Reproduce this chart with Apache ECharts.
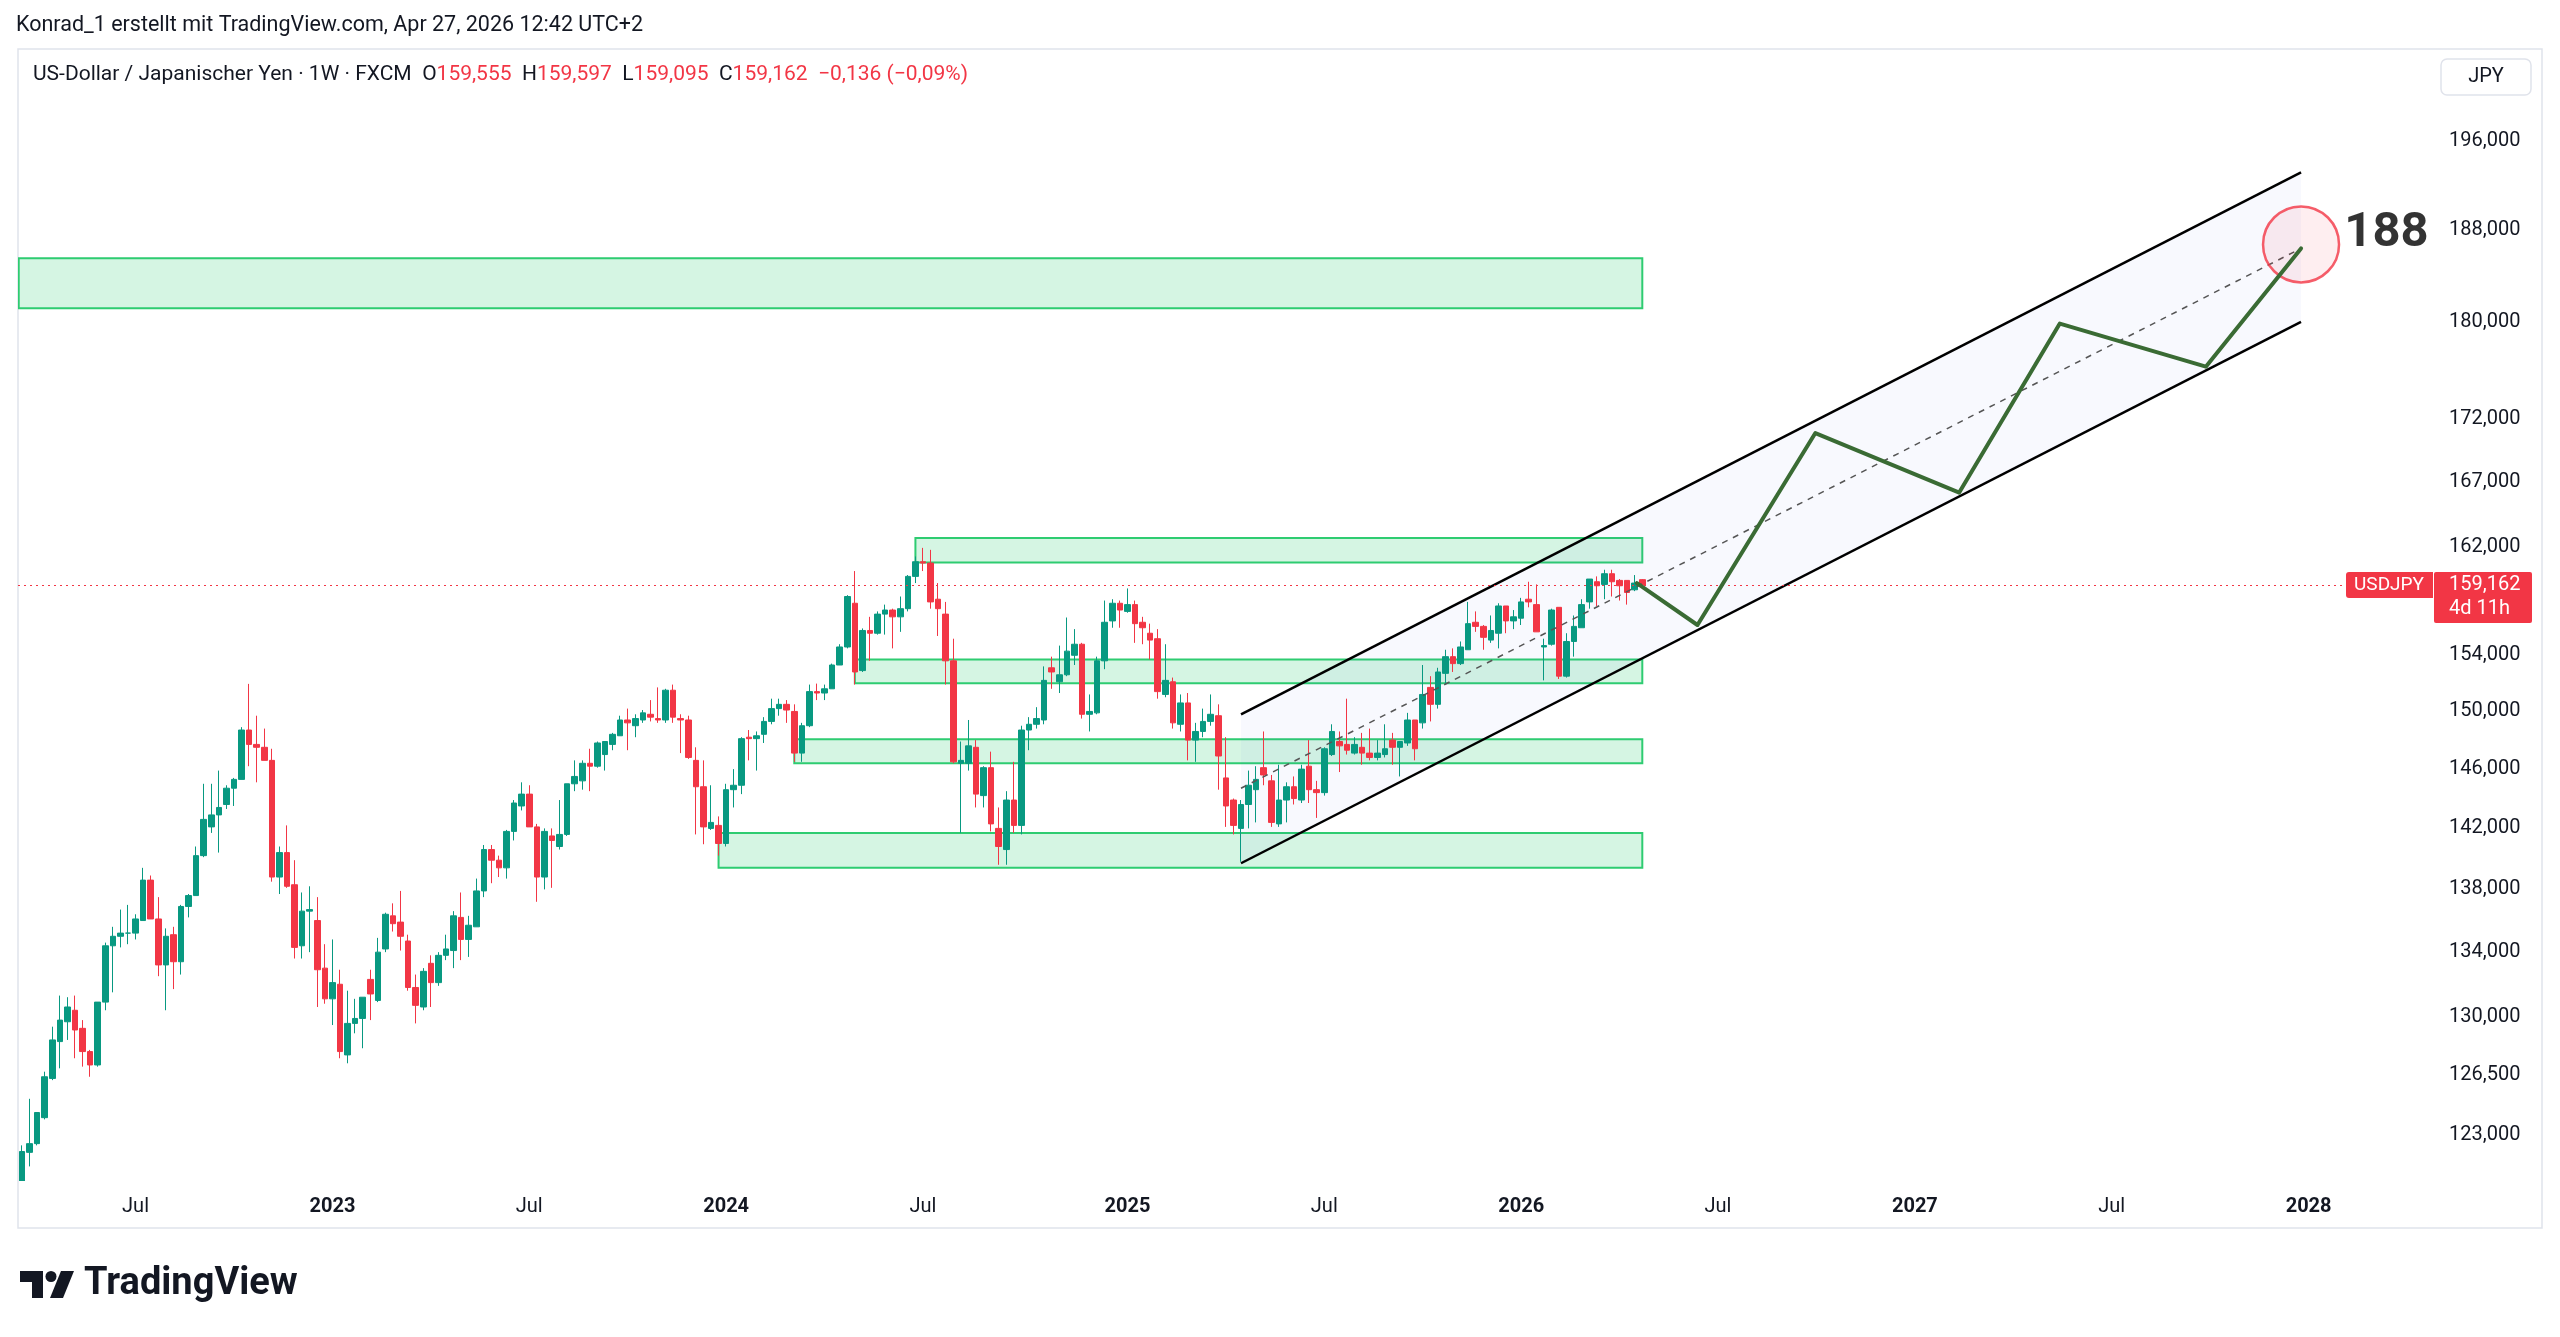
<!DOCTYPE html>
<html lang="de">
<head>
<meta charset="UTF-8">
<title>USDJPY 1W</title>
<script src="https://cdn.jsdelivr.net/npm/echarts@6.0.0/dist/echarts.min.js"></script>
<style>
  html, body { margin: 0; padding: 0; background: #fff; }
  #main { width: 2560px; height: 1337px; }
</style>
</head>
<body>
<div id="main"></div>
<script>
// weekly candles: [week, open, high, low, close]
const candles = [
  ['2022-03-21',119.2,122.4,119.1,122.05],['2022-03-28',122.0,125.1,121.2,122.5],['2022-04-04',122.5,124.3,122.4,124.3],
  ['2022-04-11',124.0,126.7,123.9,126.4],['2022-04-18',126.3,129.4,126.2,128.6],['2022-04-25',128.5,131.3,126.9,129.8],
  ['2022-05-02',129.7,131.2,128.6,130.6],['2022-05-09',130.4,131.3,127.5,129.2],['2022-05-16',129.3,129.8,127.0,127.9],
  ['2022-05-23',127.9,128.0,126.4,127.1],['2022-05-30',127.1,130.9,127.0,130.9],['2022-06-06',130.9,134.6,130.4,134.4],
  ['2022-06-13',134.4,135.6,131.5,135.0],['2022-06-20',135.0,136.7,134.3,135.2],['2022-06-27',135.2,137.0,134.5,135.2],
  ['2022-07-04',135.2,136.4,134.8,136.1],['2022-07-11',136.0,139.4,136.0,138.6],['2022-07-18',138.6,138.9,136.4,136.1],
  ['2022-07-25',136.1,137.5,132.5,133.2],['2022-08-01',133.2,135.5,130.4,135.0],['2022-08-08',135.1,135.6,131.7,133.4],
  ['2022-08-15',133.4,137.0,132.6,136.9],['2022-08-22',136.9,137.7,136.2,137.6],['2022-08-29',137.6,140.8,137.6,140.2],
  ['2022-09-05',140.2,145.0,140.1,142.6],['2022-09-12',142.1,145.0,141.7,142.9],['2022-09-19',142.9,145.9,140.4,143.4],
  ['2022-09-26',143.6,144.9,143.3,144.7],['2022-10-03',144.7,145.4,143.5,145.3],['2022-10-10',145.3,148.9,145.3,148.7],
  ['2022-10-17',148.7,151.95,146.2,147.7],['2022-10-24',147.7,149.7,145.1,147.5],['2022-10-31',147.5,148.8,146.6,146.6],
  ['2022-11-07',146.6,147.4,138.5,138.8],['2022-11-14',138.8,140.8,137.7,140.4],['2022-11-21',140.4,142.2,138.1,138.2],
  ['2022-11-28',138.3,139.9,133.6,134.3],['2022-12-05',134.4,137.8,133.6,136.6],['2022-12-12',136.6,138.2,134.0,136.7],
  ['2022-12-19',136.0,137.5,130.6,132.9],['2022-12-26',133.0,134.5,130.8,131.1],
  ['2023-01-02',131.1,134.8,129.5,132.1],['2023-01-09',132.0,132.9,127.5,127.9],['2023-01-16',127.7,131.6,127.2,129.6],
  ['2023-01-23',129.6,131.1,129.0,129.9],['2023-01-30',129.9,131.2,128.1,131.2],['2023-02-06',132.3,132.9,129.8,131.4],
  ['2023-02-13',131.0,134.9,130.9,134.0],['2023-02-20',134.2,136.5,134.0,136.4],['2023-02-27',136.3,137.1,135.3,135.8],
  ['2023-03-06',135.9,137.9,134.1,135.0],['2023-03-13',134.7,135.1,131.6,131.8],['2023-03-20',131.8,132.6,129.6,130.7],
  ['2023-03-27',130.6,133.0,130.4,132.8],['2023-04-03',133.3,133.8,130.6,132.1],['2023-04-10',132.1,134.0,131.9,133.8],
  ['2023-04-17',133.8,135.1,133.5,134.2],['2023-04-24',134.1,136.6,133.0,136.3],['2023-05-01',136.2,137.8,133.5,134.8],
  ['2023-05-08',134.8,136.3,133.7,135.7],['2023-05-15',135.6,138.7,135.6,137.9],['2023-05-22',137.9,140.9,137.5,140.6],
  ['2023-05-29',140.6,140.9,138.4,139.9],['2023-06-05',139.9,140.2,138.8,139.4],['2023-06-12',139.4,141.9,138.7,141.8],
  ['2023-06-19',141.8,143.9,141.2,143.7],['2023-06-26',143.5,145.1,143.2,144.3],['2023-07-03',144.3,144.9,142.1,142.1],
  ['2023-07-10',142.1,142.3,137.2,138.8],['2023-07-17',138.8,142.0,138.0,141.8],['2023-07-24',141.5,142.0,138.1,141.2],
  ['2023-07-31',140.8,143.9,140.6,141.6],['2023-08-07',141.6,145.0,141.5,145.0],['2023-08-14',145.0,146.6,144.5,145.5],
  ['2023-08-21',145.2,146.6,144.6,146.4],['2023-08-28',146.4,147.4,144.5,146.2],['2023-09-04',146.2,147.9,146.1,147.8],
  ['2023-09-11',147.0,147.9,145.9,147.9],['2023-09-18',147.7,148.5,147.3,148.4],['2023-09-25',148.3,149.7,148.3,149.4],
  ['2023-10-02',149.4,150.2,147.3,149.2],['2023-10-09',149.0,149.8,148.2,149.5],['2023-10-16',149.4,150.1,149.2,149.9],
  ['2023-10-23',149.8,150.8,149.3,149.6],['2023-10-30',149.5,151.7,149.2,149.4],['2023-11-06',149.4,151.6,149.2,151.5],
  ['2023-11-13',151.5,151.9,149.2,149.6],['2023-11-20',149.5,149.8,147.1,149.4],['2023-11-27',149.4,149.7,146.7,146.8],
  ['2023-12-04',146.6,147.5,141.6,144.8],['2023-12-11',144.8,146.6,140.95,142.1],['2023-12-18',142.0,144.9,141.9,142.4],
  ['2023-12-25',142.2,142.8,140.2,141.0],
  ['2024-01-01',141.0,145.0,140.8,144.6],['2024-01-08',144.6,146.0,143.4,144.9],['2024-01-15',144.9,148.2,144.3,148.1],
  ['2024-01-22',148.2,148.7,146.6,148.1],['2024-01-29',148.1,148.6,145.9,148.3],['2024-02-05',148.4,149.6,147.8,149.3],
  ['2024-02-12',149.3,150.9,149.1,150.2],['2024-02-19',150.2,150.9,149.7,150.5],['2024-02-26',150.5,150.8,149.2,150.1],
  ['2024-03-04',150.0,150.5,146.5,147.1],['2024-03-11',147.1,149.2,146.5,149.0],['2024-03-18',149.0,151.9,148.9,151.4],
  ['2024-03-25',151.4,151.97,150.8,151.3],['2024-04-01',151.3,151.9,150.8,151.6],['2024-04-08',151.6,153.4,151.6,153.3],
  ['2024-04-15',153.3,154.8,153.3,154.6],['2024-04-22',154.6,158.4,154.5,158.3],['2024-04-29',157.8,160.2,151.9,152.8],
  ['2024-05-06',152.9,155.95,152.8,155.8],['2024-05-13',155.8,156.8,153.6,155.6],['2024-05-20',155.6,157.2,155.5,157.0],
  ['2024-05-27',157.0,157.7,155.5,157.3],['2024-06-03',157.3,157.4,154.5,156.8],['2024-06-10',156.8,158.3,155.7,157.4],
  ['2024-06-17',157.4,159.9,157.2,159.8],['2024-06-24',159.8,161.3,159.3,160.9],['2024-07-01',160.9,161.95,160.2,160.8],
  ['2024-07-08',160.8,161.8,157.4,157.9],['2024-07-15',158.1,159.3,155.4,157.4],['2024-07-22',157.0,157.9,151.9,153.6],
  ['2024-07-29',153.6,155.2,146.4,146.5],['2024-08-05',146.4,147.9,141.7,146.6],['2024-08-12',146.4,149.4,145.9,147.6],
  ['2024-08-19',147.5,148.0,143.4,144.3],['2024-08-26',144.2,146.2,143.4,146.1],['2024-09-02',146.1,147.2,141.8,142.3],
  ['2024-09-09',142.0,143.4,139.6,140.8],['2024-09-16',140.6,144.5,139.6,143.9],['2024-09-23',143.9,146.5,141.7,142.2],
  ['2024-09-30',142.2,149.0,141.6,148.7],['2024-10-07',148.7,149.6,147.3,149.1],['2024-10-14',149.1,150.3,148.8,149.5],
  ['2024-10-21',149.4,153.2,149.1,152.2],['2024-10-28',153.1,153.9,151.6,152.8],['2024-11-04',152.1,154.7,151.3,152.6],
  ['2024-11-11',152.6,156.75,152.5,154.3],['2024-11-18',154.0,155.9,153.3,154.8],['2024-11-25',154.8,154.9,149.5,149.8],
  ['2024-12-02',149.8,151.2,148.6,150.0],['2024-12-09',149.9,153.9,149.8,153.6],['2024-12-16',153.6,158.0,153.0,156.4],
  ['2024-12-23',156.5,158.1,156.0,157.8],['2024-12-30',157.8,158.0,156.0,157.3],
  ['2025-01-06',157.2,158.9,157.1,157.7],['2025-01-13',157.7,158.0,154.9,156.3],['2025-01-20',156.4,156.8,154.8,156.0],
  ['2025-01-27',155.6,156.3,153.7,155.1],['2025-02-03',155.2,155.9,150.9,151.4],['2025-02-10',151.2,154.8,151.0,152.2],
  ['2025-02-17',152.1,152.4,148.8,149.2],['2025-02-24',149.1,151.2,148.6,150.6],['2025-03-03',150.6,151.3,146.6,148.0],
  ['2025-03-10',148.0,149.2,146.5,148.6],['2025-03-17',148.6,150.2,148.2,149.3],['2025-03-24',149.3,151.2,149.0,149.8],
  ['2025-03-31',149.7,150.5,144.6,146.9],['2025-04-07',145.4,148.2,142.1,143.5],['2025-04-14',143.9,144.0,141.6,142.2],
  ['2025-04-21',142.0,143.9,139.8,143.6],['2025-04-28',143.6,145.9,142.0,144.9],['2025-05-05',144.6,146.2,142.4,145.3],
  ['2025-05-12',146.1,148.6,144.9,145.6],['2025-05-19',145.2,145.6,142.1,142.4],['2025-05-26',142.3,146.3,142.1,143.9],
  ['2025-06-02',143.9,145.1,142.4,144.8],['2025-06-09',144.8,145.5,143.6,144.0],['2025-06-16',143.9,146.3,143.7,146.0],
  ['2025-06-23',146.2,148.0,143.7,144.6],['2025-06-30',144.6,145.2,142.7,144.4],['2025-07-07',144.4,147.5,144.2,147.4],
  ['2025-07-14',147.0,149.1,146.9,148.6],['2025-07-21',147.9,148.6,145.8,147.6],['2025-07-28',147.7,150.9,147.0,147.3],
  ['2025-08-04',147.1,148.2,147.0,147.7],['2025-08-11',147.5,148.5,146.3,147.1],['2025-08-18',147.1,148.8,146.6,146.8],
  ['2025-08-25',146.8,148.0,146.6,147.1],['2025-09-01',147.0,149.1,146.8,147.4],['2025-09-08',148.0,148.5,146.3,147.5],
  ['2025-09-15',147.5,147.9,145.5,147.9],['2025-09-22',147.8,149.9,147.6,149.4],['2025-09-29',149.4,149.4,146.6,147.4],
  ['2025-10-06',149.2,153.3,148.8,151.2],['2025-10-13',151.7,152.5,149.3,150.5],['2025-10-20',150.5,153.1,150.2,152.8],
  ['2025-10-27',152.7,154.4,152.0,153.9],['2025-11-03',153.9,154.5,152.8,153.4],['2025-11-10',153.4,155.0,153.3,154.6],
  ['2025-11-17',154.4,157.9,154.4,156.3],['2025-11-24',156.4,157.2,155.7,156.1],['2025-12-01',156.1,156.2,154.4,155.3],
  ['2025-12-08',155.1,156.9,154.9,155.8],['2025-12-15',155.6,157.8,154.5,157.6],['2025-12-22',157.6,157.6,155.6,156.5],
  ['2025-12-29',156.5,157.3,155.9,156.8],
  ['2026-01-05',156.7,158.2,156.2,157.9],['2026-01-12',158.1,159.4,157.5,157.9],['2026-01-19',157.7,159.2,155.7,155.7],
  ['2026-01-26',154.6,155.2,152.2,154.7],['2026-02-02',154.8,157.4,154.7,157.3],['2026-02-09',157.5,157.5,152.3,152.5],
  ['2026-02-16',152.5,155.6,152.4,155.0],['2026-02-23',155.0,156.9,153.9,156.1],['2026-03-02',156.0,158.1,156.0,157.7],
  ['2026-03-09',157.9,159.6,157.4,159.6],['2026-03-16',159.4,159.8,157.6,159.1],['2026-03-23',159.2,160.3,158.1,160.0],
  ['2026-03-30',160.0,160.3,158.3,159.4],['2026-04-06',159.5,159.6,158.0,159.1],['2026-04-13',159.5,159.5,157.7,158.6],
  ['2026-04-20',158.8,159.9,158.7,159.3],['2026-04-27',159.555,159.597,159.095,159.162]
];

const priceTicks = [123, 126.5, 130, 134, 138, 142, 146, 150, 154, 162, 167, 172, 180, 188, 196];
const timeTicks = ['2022-07-04','2023-01-02','2023-07-03','2024-01-01','2024-07-01','2025-01-06',
                   '2025-07-07','2026-01-05','2026-07-06','2027-01-04','2027-07-05','2028-01-03'];
const timeTickLabels = ['Jul','2023','Jul','2024','Jul','2025','Jul','2026','Jul','2027','Jul','2028'];

// green zones
const zoneStarts  = ['2022-03-18','2024-06-24','2024-04-29','2024-03-04','2023-12-25'];
const zoneEnds    = ['2026-04-27','2026-04-27','2026-04-27','2026-04-27','2026-04-27'];
const zoneTops    = [185.5, 162.7, 153.7, 148.05, 141.7];
const zoneBottoms = [181.2, 160.85, 152.0, 146.4, 139.4];

// rising channel
const channelDates = ['2025-04-21', '2027-12-27'];
const channelUpper = [149.8, 193.1];
const channelMid   = [144.7, 186.35];
const channelLower = [139.7, 180.05];

// projected path
const pathDates  = ['2026-04-22','2026-06-17','2026-10-04','2027-02-14','2027-05-18','2027-09-30','2027-12-27'];
const pathPrices = [159.3, 156.2, 170.9, 166.2, 179.9, 176.3, 186.35];

const targetDate = '2027-12-27';
const targetPrice = 186.7;
const targetLabel = '188';
const lastPrice = 159.162;

const toMs = s => Date.parse(s);
const ln = Math.log;
const fmt = v => v.toFixed(3).replace('.', ',');
const FONT = 'Roboto';
const PLOT_BOTTOM = 1180;

const candleData = candles.map(c => [toMs(c[0]), ln(c[1]), ln(c[4]), ln(c[3]), ln(c[2])]);
const zoneData = zoneStarts.map((s, i) => [toMs(s), toMs(zoneEnds[i]), ln(zoneTops[i]), ln(zoneBottoms[i])]);
const timeTickMs = timeTicks.map(toMs);
const lineOf = (dates, prices) => dates.map((d, i) => [toMs(d), ln(prices[i])]);

const chart = echarts.init(document.getElementById('main'));

const option = {
  animation: false,
  backgroundColor: '#ffffff',
  grid: { left: 18, right: 127, top: 49, bottom: 1337 - PLOT_BOTTOM, outerBoundsMode: 'none' },
  xAxis: {
    type: 'value',
    min: Date.parse('2022-03-17T08:00:00Z'),
    max: Date.parse('2028-04-27T00:00:00Z'),
    axisLine: { show: false },
    axisTick: { show: false },
    splitLine: { show: false },
    axisLabel: {
      customValues: timeTickMs,
      margin: 17,
      fontFamily: FONT,
      fontSize: 20,
      color: '#131722',
      formatter: v => {
        let best = 0;
        timeTickMs.forEach((t, i) => { if (Math.abs(t - v) < Math.abs(timeTickMs[best] - v)) best = i; });
        const lab = timeTickLabels[best];
        return /^\d{4}$/.test(lab) ? '{y|' + lab + '}' : lab;
      },
      rich: { y: { fontFamily: FONT, fontSize: 20, fontWeight: 'bold', color: '#131722' } }
    }
  },
  yAxis: {
    type: 'value',
    position: 'right',
    min: ln(120.43),
    max: ln(204.6),
    axisLine: { show: false },
    axisTick: { show: false },
    splitLine: { show: false },
    axisLabel: {
      customValues: priceTicks.map(ln),
      margin: 16,
      fontFamily: FONT,
      fontSize: 20,
      color: '#131722',
      formatter: v => fmt(Math.exp(v))
    }
  },
  series: [
    {
      type: 'custom',
      name: 'zones',
      z: 1,
      clip: true,
      encode: { x: [0, 1], y: [2, 3] },
      data: zoneData,
      renderItem: (params, api) => {
        const p1 = api.coord([api.value(0), api.value(2)]);
        const p2 = api.coord([api.value(1), api.value(3)]);
        return {
          type: 'rect',
          shape: { x: p1[0], y: p1[1], width: p2[0] - p1[0], height: p2[1] - p1[1] },
          style: { fill: 'rgba(46,204,113,0.2)', stroke: '#2ecc71', lineWidth: 2 }
        };
      }
    },
    {
      type: 'custom',
      name: 'channel fill',
      z: 1,
      clip: true,
      encode: { x: 0, y: 1 },
      data: [[toMs(channelDates[0]), ln(channelUpper[0])]],
      renderItem: (params, api) => {
        const t0 = toMs(channelDates[0]), t1 = toMs(channelDates[1]);
        const pts = [
          api.coord([t0, ln(channelUpper[0])]),
          api.coord([t1, ln(channelUpper[1])]),
          api.coord([t1, ln(channelLower[1])]),
          api.coord([t0, ln(channelLower[0])])
        ];
        return { type: 'polygon', shape: { points: pts }, style: { fill: 'rgba(60,90,240,0.035)' } };
      }
    },
    {
      type: 'candlestick',
      name: 'USDJPY',
      z: 3,
      barWidth: 6,
      encode: { x: 0, y: [1, 2, 3, 4] },
      data: candleData,
      itemStyle: {
        color: '#089981',
        color0: '#f23645',
        borderColor: '#089981',
        borderColor0: '#f23645',
        borderWidth: 1
      },
      markLine: {
        silent: true,
        symbol: ['none', 'none'],
        label: { show: false },
        lineStyle: { color: '#f23645', type: [2, 4], width: 1 },
        data: [{ yAxis: ln(lastPrice) }]
      }
    },
    {
      type: 'line', name: 'channel mid', z: 4, showSymbol: false, silent: true,
      data: lineOf(channelDates, channelMid),
      lineStyle: { color: '#555', width: 1.5, type: [6, 6] }
    },
    {
      type: 'line', name: 'channel upper', z: 4, showSymbol: false, silent: true,
      data: lineOf(channelDates, channelUpper),
      lineStyle: { color: '#000', width: 2.5 }
    },
    {
      type: 'line', name: 'channel lower', z: 4, showSymbol: false, silent: true,
      data: lineOf(channelDates, channelLower),
      lineStyle: { color: '#000', width: 2.5 }
    },
    {
      type: 'scatter', name: 'target', z: 4, silent: true,
      symbol: 'circle', symbolSize: 76,
      data: [[toMs(targetDate), ln(targetPrice)]],
      itemStyle: { color: 'rgba(242,54,69,0.1)', borderColor: '#f23645', borderWidth: 2.5 },
      label: {
        show: true, position: 'right', distance: 4, offset: [0, -11],
        formatter: targetLabel,
        fontFamily: FONT, fontSize: 49, fontWeight: 'bold', color: '#000'
      }
    },
    {
      type: 'line', name: 'projection', z: 5, showSymbol: false, silent: true,
      data: lineOf(pathDates, pathPrices),
      lineStyle: { color: '#3a6b34', width: 4, cap: 'round', join: 'round' }
    }
  ]
};

chart.setOption(option);

const yLast = chart.convertToPixel({ yAxisIndex: 0 }, ln(lastPrice));

chart.setOption({
  graphic: [
    // candles are not clipped at the bottom of the price pane, so cover the overhang
    { type: 'rect', silent: true, z: 100,
      shape: { x: 19, y: PLOT_BOTTOM + 1, width: 40, height: 24 },
      style: { fill: '#fff' } },
    { type: 'rect', silent: true, z: 0,
      shape: { x: 18, y: 49, width: 2524, height: 1179 },
      style: { fill: 'none', stroke: '#e0e3eb', lineWidth: 1.5 } },
    { type: 'text', silent: true,
      style: { x: 16, y: 26, text: 'Konrad_1 erstellt mit TradingView.com, Apr 27, 2026 12:42 UTC+2',
               font: '21.5px ' + FONT, fill: '#131722', verticalAlign: 'middle' } },
    { type: 'text', silent: true,
      style: {
        x: 33, y: 75, verticalAlign: 'middle',
        text: '{n|US-Dollar / Japanischer Yen · 1W · FXCM  O}{r|159,555}{n|  H}{r|159,597}{n|  L}{r|159,095}{n|  C}{r|159,162}{r|  −0,136 (−0,09%)}',
        rich: {
          n: { fontFamily: FONT, fontSize: 21, fill: '#131722' },
          r: { fontFamily: FONT, fontSize: 21, fill: '#f23645' }
        }
      } },
    { type: 'rect', silent: true,
      shape: { x: 2441, y: 59, width: 90, height: 36, r: 6 },
      style: { fill: '#fff', stroke: '#e0e3eb', lineWidth: 1.5 } },
    { type: 'text', silent: true,
      style: { x: 2486, y: 77, text: 'JPY', font: '20px ' + FONT, fill: '#131722', align: 'center', verticalAlign: 'middle' } },
    { type: 'rect', silent: true, z: 10,
      shape: { x: 2346, y: yLast - 13, width: 87, height: 26, r: [3, 0, 0, 3] },
      style: { fill: '#f23645' } },
    { type: 'text', silent: true, z: 11,
      style: { x: 2389, y: yLast, text: 'USDJPY', font: '19px ' + FONT, fill: '#fff', align: 'center', verticalAlign: 'middle' } },
    { type: 'rect', silent: true, z: 10,
      shape: { x: 2434, y: yLast - 13, width: 98, height: 51, r: 2 },
      style: { fill: '#f23645' } },
    { type: 'text', silent: true, z: 11,
      style: { x: 2449, y: yLast, text: fmt(lastPrice), font: '20px ' + FONT, fill: '#fff', verticalAlign: 'middle' } },
    { type: 'text', silent: true, z: 11,
      style: { x: 2449, y: yLast + 24, text: '4d 11h', font: '20px ' + FONT, fill: '#fff', verticalAlign: 'middle' } },
    // TradingView logo
    { type: 'polygon', silent: true,
      shape: { points: [[20, 1271], [43, 1271], [43, 1298], [32, 1298], [32, 1282], [20, 1282]] },
      style: { fill: '#131722' } },
    { type: 'circle', silent: true, shape: { cx: 51, cy: 1276.5, r: 5.5 }, style: { fill: '#131722' } },
    { type: 'polygon', silent: true,
      shape: { points: [[61, 1271], [74, 1271], [63, 1298], [50, 1298]] },
      style: { fill: '#131722' } },
    { type: 'text', silent: true,
      style: { x: 84, y: 1284, text: 'TradingView', font: 'bold 38px ' + FONT, fill: '#131722', verticalAlign: 'middle' } }
  ]
});
</script>
</body>
</html>
